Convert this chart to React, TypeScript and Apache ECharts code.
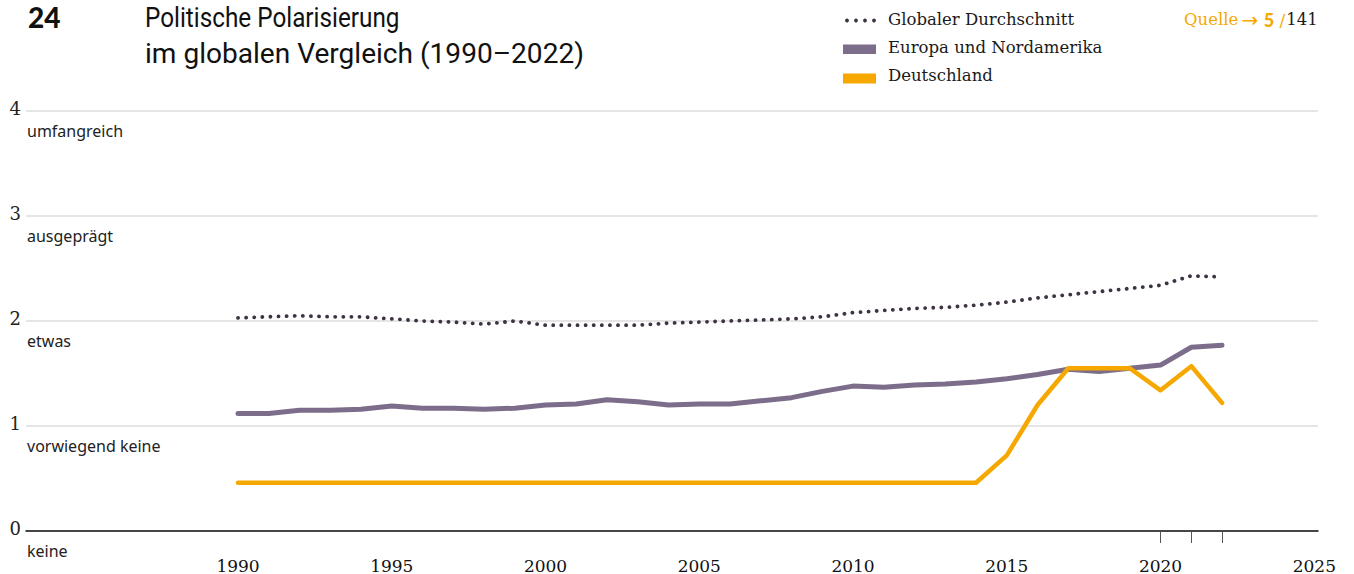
import React, { useEffect, useRef } from 'react';
import * as echarts from 'echarts';

const years = [
  1990, 1991, 1992, 1993, 1994, 1995, 1996, 1997, 1998, 1999,
  2000, 2001, 2002, 2003, 2004, 2005, 2006, 2007, 2008, 2009,
  2010, 2011, 2012, 2013, 2014, 2015, 2016, 2017, 2018, 2019,
  2020, 2021, 2022,
];

const globalAvg = [
  2.03, 2.04, 2.05, 2.04, 2.04, 2.02, 2.0, 1.99, 1.97, 2.0,
  1.96, 1.96, 1.96, 1.96, 1.98, 1.99, 2.0, 2.01, 2.02, 2.04,
  2.08, 2.1, 2.12, 2.13, 2.15, 2.18, 2.22, 2.25, 2.28, 2.31,
  2.34, 2.43, 2.42,
];

const europeNA = [
  1.12, 1.12, 1.15, 1.15, 1.16, 1.19, 1.17, 1.17, 1.16, 1.17,
  1.2, 1.21, 1.25, 1.23, 1.2, 1.21, 1.21, 1.24, 1.27, 1.33,
  1.38, 1.37, 1.39, 1.4, 1.42, 1.45, 1.49, 1.54, 1.52, 1.55,
  1.58, 1.75, 1.77,
];

const germany = [
  0.46, 0.46, 0.46, 0.46, 0.46, 0.46, 0.46, 0.46, 0.46, 0.46,
  0.46, 0.46, 0.46, 0.46, 0.46, 0.46, 0.46, 0.46, 0.46, 0.46,
  0.46, 0.46, 0.46, 0.46, 0.46, 0.72, 1.2, 1.55, 1.55, 1.55,
  1.34, 1.57, 1.22,
];

const yearLabels = [1990, 1995, 2000, 2005, 2010, 2015, 2020, 2025];
const markedYears = [2020, 2021, 2022];
const levelTicks = [0, 1, 2, 3, 4];
const levelNames = ['keine', 'vorwiegend keine', 'etwas', 'ausgeprägt', 'umfangreich'];

const seriesNames = ['Globaler Durchschnitt', 'Europa und Nordamerika', 'Deutschland'];

const COL_DOT = '#3d3342';
const COL_PURPLE = '#7c6d8a';
const COL_ORANGE = '#f6a800';
const SERIF = '"DejaVu Serif", serif';
const SANS = '"Noto Sans", sans-serif';

const pairs = (vals: number[]) => years.map((y, i) => [y, vals[i]]);

export default function App() {
  const ref = useRef<HTMLDivElement>(null);
  useEffect(() => {
    const chart = echarts.init(ref.current!, null, { renderer: 'svg' });
    const option: any = {
      animation: false,
      backgroundColor: '#ffffff',
      grid: { left: 26, right: 36, top: 111, bottom: 43, containLabel: false },
      xAxis: {
        type: 'value',
        min: 1983.106,
        max: 2025.12,
        axisLine: { show: true, lineStyle: { color: '#111', width: 1.5 } },
        axisTick: {
          show: true,
          customValues: markedYears,
          length: 12,
          lineStyle: { color: '#555', width: 1 },
        },
        axisLabel: {
          customValues: yearLabels,
          fontFamily: SERIF,
          fontSize: 17,
          color: '#111',
          margin: 26,
          formatter: (v: number) => String(v),
        },
        splitLine: { show: false },
      },
      yAxis: [
        {
          type: 'value',
          min: 0,
          max: 4,
          interval: 1,
          axisLine: { show: false },
          axisTick: { show: false },
          axisLabel: {
            customValues: levelTicks,
            fontFamily: SERIF,
            fontSize: 18,
            color: '#222',
            margin: 5,
            verticalAlign: 'bottom',
            lineHeight: 6,
          },
          splitLine: { show: true, lineStyle: { color: '#dcdcdc', width: 1.5 } },
        },
        {
          type: 'value',
          min: 0,
          max: 4,
          interval: 1,
          position: 'left',
          axisLine: { show: false },
          axisTick: { show: false },
          splitLine: { show: false },
          axisLabel: {
            inside: true,
            align: 'left',
            margin: 1,
            fontFamily: SANS,
            fontSize: 16,
            color: '#222',
            verticalAlign: 'top',
            lineHeight: 40,
            formatter: (v: number) => levelNames[v] ?? '',
          },
        },
      ],
      series: [
        {
          name: seriesNames[0],
          type: 'line',
          data: pairs(globalAvg),
          showSymbol: false,
          z: 2,
          lineStyle: { color: COL_DOT, width: 3.8, type: [0.1, 8], cap: 'round', join: 'round' },
        },
        {
          name: seriesNames[1],
          type: 'line',
          data: pairs(europeNA),
          showSymbol: false,
          z: 3,
          lineStyle: { color: COL_PURPLE, width: 5, cap: 'round', join: 'round' },
        },
        {
          name: seriesNames[2],
          type: 'line',
          data: pairs(germany),
          showSymbol: false,
          z: 4,
          lineStyle: { color: COL_ORANGE, width: 4.5, cap: 'round', join: 'round' },
        },
      ],
      graphic: [
        {
          type: 'text',
          x: 28,
          y: 17,
          style: { text: '24', font: '900 28px Lato, Inter, sans-serif', fill: '#111', verticalAlign: 'middle' },
        },
        {
          type: 'text',
          x: 145,
          y: 18,
          scaleX: 0.9,
          style: {
            text: 'Politische Polarisierung',
            font: '400 27px Roboto, sans-serif',
            fill: '#111',
            verticalAlign: 'middle',
          },
        },
        {
          type: 'text',
          x: 145,
          y: 54,
          scaleX: 1.04,
          style: {
            text: 'im globalen Vergleich (1990–2022)',
            font: '400 27px Roboto, sans-serif',
            fill: '#111',
            verticalAlign: 'middle',
          },
        },
        { type: 'circle', shape: { cx: 847, cy: 20.5, r: 1.9 }, style: { fill: COL_DOT } },
        { type: 'circle', shape: { cx: 856, cy: 20.5, r: 1.9 }, style: { fill: COL_DOT } },
        { type: 'circle', shape: { cx: 865, cy: 20.5, r: 1.9 }, style: { fill: COL_DOT } },
        { type: 'circle', shape: { cx: 874, cy: 20.5, r: 1.9 }, style: { fill: COL_DOT } },
        { type: 'rect', shape: { x: 843, y: 44.5, width: 33, height: 9.5 }, style: { fill: COL_PURPLE } },
        { type: 'rect', shape: { x: 843, y: 73.5, width: 33, height: 10 }, style: { fill: COL_ORANGE } },
        {
          type: 'text',
          x: 888,
          y: 19.5,
          style: { text: seriesNames[0], font: `16.5px ${SERIF}`, fill: '#1a1a1a', verticalAlign: 'middle' },
        },
        {
          type: 'text',
          x: 888,
          y: 47.5,
          style: { text: seriesNames[1], font: `16.5px ${SERIF}`, fill: '#1a1a1a', verticalAlign: 'middle' },
        },
        {
          type: 'text',
          x: 888,
          y: 75,
          style: { text: seriesNames[2], font: `16.5px ${SERIF}`, fill: '#1a1a1a', verticalAlign: 'middle' },
        },
        {
          type: 'text',
          x: 1184,
          y: 19.5,
          style: {
            text: '{q|Quelle} {a|→} {b|5} {s|/}{n|141}',
            verticalAlign: 'middle',
            rich: {
              q: { fontFamily: SERIF, fontSize: 16.5, fill: COL_ORANGE },
              a: { fontFamily: '"DejaVu Sans", sans-serif', fontSize: 20, fill: COL_ORANGE },
              b: { fontFamily: 'Lato, Inter, sans-serif', fontWeight: 900, fontSize: 18, fill: COL_ORANGE, padding: [0, 2, 0, 2] },
              s: { fontFamily: SERIF, fontSize: 17, fill: COL_ORANGE, padding: [0, 1, 0, 0] },
              n: { fontFamily: SERIF, fontSize: 16.5, fill: '#1a1a1a' },
            },
          },
        },
      ],
    };
    chart.setOption(option);
    return () => chart.dispose();
  }, []);
  return (
    <div
      ref={ref}
      style={{ position: 'fixed', left: 0, top: 0, width: 1354, height: 574, background: '#fff' }}
    />
  );
}
